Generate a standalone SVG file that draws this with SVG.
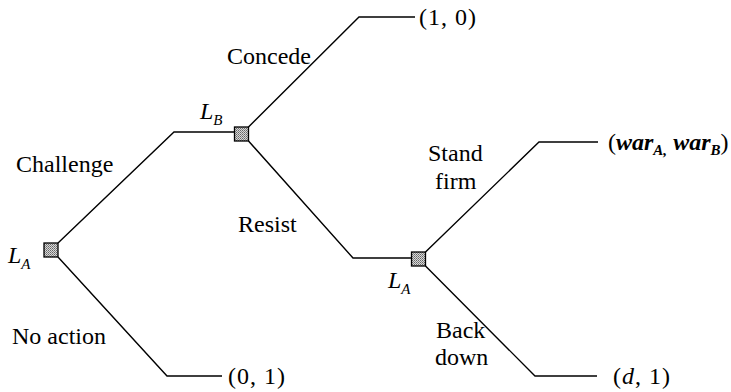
<svg xmlns="http://www.w3.org/2000/svg" width="731" height="392" viewBox="0 0 731 392">
<defs>
<pattern id="stip" width="2" height="2" patternUnits="userSpaceOnUse">
<rect width="2" height="2" fill="#d8d8d8"/>
<rect width="1" height="1" fill="#666"/>
<rect x="1" y="1" width="1" height="1" fill="#888"/>
</pattern>
</defs>
<style>
text{font-family:"Liberation Serif","DejaVu Serif",serif;font-size:24px;fill:#000}
.i{font-style:italic}
.s{font-size:15px}
.p{letter-spacing:1px}
.sq{fill:url(#stip);stroke:#000;stroke-width:1.3}
.e{fill:none;stroke:#000;stroke-width:1.4}
</style>
<rect width="731" height="392" fill="#fff"/>
<g id="connectors">
<path class="e" d="M58,243 L174,132 L234.5,132"/>
<path class="e" d="M58,257 L167,376 L222,376"/>
<path class="e" d="M248.5,127 L359,17 L415,17"/>
<path class="e" d="M248.5,141 L353,258 L411.5,258"/>
<path class="e" d="M425.5,252 L539,142 L598,142"/>
<path class="e" d="M425.5,266 L535,376 L597,376"/>
</g>
<g id="LA1">
<rect class="sq" x="44" y="243" width="14" height="14"/>
<text class="i" x="8" y="263">L<tspan class="s" dy="6">A</tspan></text>
</g>
<g id="LB">
<rect class="sq" x="234.5" y="127" width="14" height="14"/>
<text class="i" x="200" y="119">L<tspan class="s" dy="6">B</tspan></text>
</g>
<g id="LA2">
<rect class="sq" x="411.5" y="252" width="14" height="14"/>
<text class="i" x="388" y="288">L<tspan class="s" dy="6">A</tspan></text>
</g>
<g id="labels">
<text x="16" y="172">Challenge</text>
<text x="12" y="344">No action</text>
<text x="227" y="64">Concede</text>
<text x="238" y="232">Resist</text>
<text x="428" y="161">Stand</text>
<text x="435" y="189">firm</text>
<text x="436" y="338">Back</text>
<text x="435" y="365">down</text>
</g>
<g id="payoffs">
<text class="p" x="419" y="25">(1, 0)</text>
<text class="p" x="228" y="384">(0, 1)</text>
<text x="608" y="150">(<tspan class="i" font-weight="bold">war</tspan><tspan class="s i" font-weight="bold" dy="5">A,</tspan><tspan class="i" font-weight="bold" dy="-5"> war</tspan><tspan class="s i" font-weight="bold" dy="5">B</tspan><tspan dy="-5">)</tspan></text>
<text class="p" x="613" y="384">(<tspan class="i">d</tspan>, 1)</text>
</g>
</svg>
